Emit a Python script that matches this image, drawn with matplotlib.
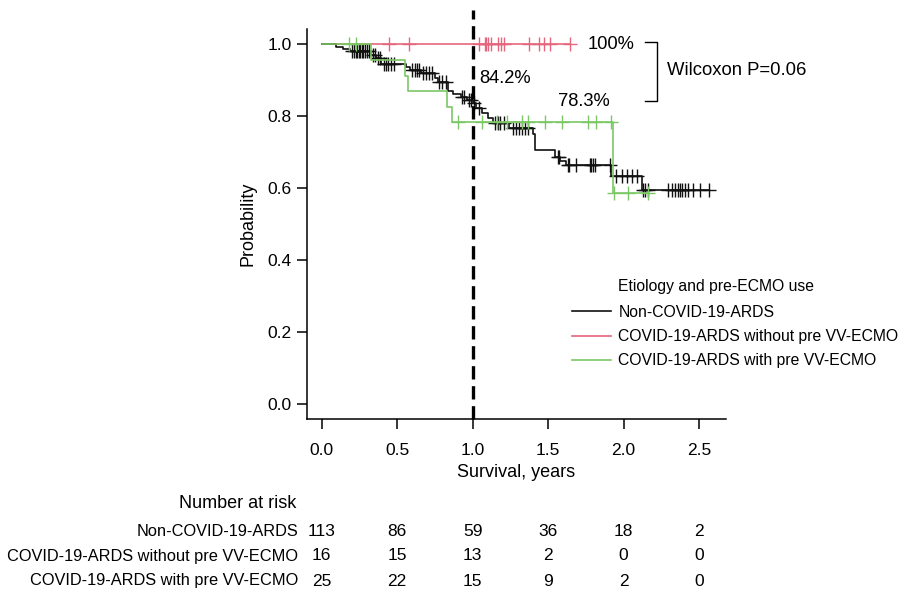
import numpy as np
import matplotlib
matplotlib.use("Agg")
import matplotlib.pyplot as plt
from matplotlib.transforms import blended_transform_factory
from matplotlib.lines import Line2D

plt.rcParams['font.family'] = ['Liberation Sans', 'DejaVu Sans']

# ---------------- data ----------------
group_names = ["Non-COVID-19-ARDS",
               "COVID-19-ARDS without pre VV-ECMO",
               "COVID-19-ARDS with pre VV-ECMO"]

# Non-COVID-19-ARDS: step times / survival
black_times = [0, 0.096, 0.14, 0.19, 0.325, 0.36, 0.395, 0.555, 0.585, 0.66, 0.75, 0.77,
               0.836, 0.87, 0.92, 0.96, 1.00, 1.025, 1.065, 1.10, 1.135, 1.24, 1.40, 1.415,
               1.545, 1.58, 1.62, 1.915, 2.12]
black_surv = [1.0, 0.993, 0.987, 0.980, 0.970, 0.961, 0.946, 0.937, 0.928, 0.919, 0.906, 0.896,
              0.870, 0.862, 0.853, 0.845, 0.836, 0.822, 0.808, 0.794, 0.780, 0.767, 0.750, 0.706,
              0.688, 0.677, 0.665, 0.634, 0.594]
black_censor = [0.20, 0.215, 0.225, 0.235, 0.245, 0.255, 0.265, 0.275, 0.285, 0.30, 0.315,
                0.34, 0.355, 0.37, 0.385,
                0.41, 0.425, 0.44, 0.46, 0.48,
                0.60, 0.615, 0.63, 0.645, 0.67, 0.69, 0.71, 0.73,
                0.78, 0.80, 0.82,
                0.93, 0.945, 0.975, 0.99,
                1.01, 1.045,
                1.15, 1.165, 1.18, 1.21,
                1.27, 1.29, 1.31, 1.33, 1.35, 1.365,
                1.565, 1.575,
                1.632, 1.639, 1.688, 1.776, 1.787, 1.798, 1.81, 1.909,
                1.953, 1.987, 2.02, 2.053, 2.086,
                2.126, 2.14, 2.163,
                2.296, 2.318, 2.34, 2.362, 2.373, 2.385, 2.406, 2.428, 2.461, 2.505, 2.565]

# COVID-19-ARDS without pre VV-ECMO
red_times = [0]
red_surv = [1.0]
red_censor = [0.443, 0.577, 1.042, 1.08, 1.09, 1.10, 1.124, 1.168, 1.19, 1.206,
              1.374, 1.44, 1.473, 1.511, 1.644]

# COVID-19-ARDS with pre VV-ECMO
green_times = [0, 0.328, 0.55, 0.57, 0.83, 0.865, 1.93]
green_surv = [1.0, 0.9565, 0.913, 0.870, 0.826, 0.783, 0.587]
green_censor = [0.18, 0.23, 0.90, 1.06, 1.16, 1.225, 1.325, 1.37, 1.48, 1.595, 1.765,
                1.82, 1.92, 1.94, 2.03, 2.16]

risk_times = [0.0, 0.5, 1.0, 1.5, 2.0, 2.5]
risk_black = [113, 86, 59, 36, 18, 2]
risk_red = [16, 15, 13, 2, 0, 0]
risk_green = [25, 22, 15, 9, 2, 0]

x_ticks = [0.0, 0.5, 1.0, 1.5, 2.0, 2.5]
y_ticks = [0.0, 0.2, 0.4, 0.6, 0.8, 1.0]

annot_100 = "100%"
annot_842 = "84.2%"
annot_783 = "78.3%"
p_text = "Wilcoxon P=0.06"

# ---------------- styles ----------------
C_BLACK = "#111111"
C_RED = "#E5667C"
C_GREEN = "#7CC765"
W, H = 902, 594
RISK_SIZE = 11.8
RISK_TITLE_SIZE = 13

fig = plt.figure(figsize=(W / 100, H / 100), dpi=100)
ax = fig.add_axes([306.7 / W, 1 - 419 / H, (725.7 - 306.7) / W, (419 - 29) / H])
ax.set_xlim(-0.1, 2.677)
ax.set_ylim(-0.041, 1.0425)


def draw_km(times, surv, censor, color, z):
    end = max(censor)
    t = list(times) + [end]
    s = list(surv) + [surv[-1]]
    ax.step(t, s, where='post', color=color, lw=1.2, zorder=z)
    idx = np.searchsorted(times, censor, side='right') - 1
    cy = np.asarray(surv)[idx]
    ax.plot(censor, cy, ls='none', marker='+', ms=9.5, mew=1.0, color=color, zorder=z)


draw_km(red_times, red_surv, red_censor, C_RED, 2)
draw_km(black_times, black_surv, black_censor, C_BLACK, 3)
draw_km(green_times, green_surv, green_censor, C_GREEN, 4)

# dashed line at 1 year
ax.plot([1.0, 1.0], [-0.041, 1.095], ls=(0, (4, 2)), lw=2.4, color='black',
        clip_on=False, zorder=5)

# spines / ticks
for s in ['top', 'right']:
    ax.spines[s].set_visible(False)
for s in ['left', 'bottom']:
    ax.spines[s].set_linewidth(1.1)
ax.set_xticks(x_ticks)
ax.set_xticklabels([f"{v:.1f}" for v in x_ticks])
ax.set_yticks(y_ticks)
ax.set_yticklabels([f"{v:.1f}" for v in y_ticks])
ax.tick_params(axis='both', direction='out', length=7, width=1.1, labelsize=12.5,
               colors='black')
ax.tick_params(axis='x', pad=10.5)
ax.tick_params(axis='y', pad=4)
ax.set_xlabel("Survival, years", fontsize=13, labelpad=4)
ax.set_ylabel("Probability", fontsize=13, labelpad=8)

# annotations
ax.text(1.765, 1.0, annot_100, fontsize=13.2, va='center', ha='left')
ax.text(1.046, 0.905, annot_842, fontsize=13.2, va='center', ha='left')
ax.text(1.566, 0.842, annot_783, fontsize=13.2, va='center', ha='left')
ax.plot([2.14, 2.22, 2.22, 2.14], [1.005, 1.005, 0.842, 0.842], color='black', lw=1.0,
        clip_on=False)
ax.text(2.287, 0.926, p_text, fontsize=13.3, va='center', ha='left')

# legend
handles = [Line2D([], [], color=c, lw=1.2) for c in (C_BLACK, C_RED, C_GREEN)]
fig.legend(handles, group_names, loc='center left',
           bbox_to_anchor=(571.7 / W, 1 - 336.5 / H), frameon=False, fontsize=11.3,
           handlelength=2.5, handletextpad=0.48, labelspacing=0.58, borderpad=0,
           borderaxespad=0)
fig.text(618.3 / W, 1 - 286.7 / H, "Etiology and pre-ECMO use", fontsize=11.3,
         va='center', ha='left')

# number at risk table
tr = blended_transform_factory(ax.transData, fig.transFigure)
fig.text(296 / W, 1 - 503 / H, "Number at risk", fontsize=RISK_TITLE_SIZE,
         ha='right', va='center')
rows = [(group_names[0], risk_black, 531), (group_names[1], risk_red, 556),
        (group_names[2], risk_green, 581)]
for name, vals, py in rows:
    fig.text(298 / W, 1 - py / H, name, fontsize=RISK_SIZE, ha='right', va='center')
    for t, v in zip(risk_times, vals):
        ax.text(t, 1 - py / H, str(v), transform=tr, fontsize=12.5,
                ha='center', va='center', clip_on=False)

fig.savefig("out.png", dpi=100)
